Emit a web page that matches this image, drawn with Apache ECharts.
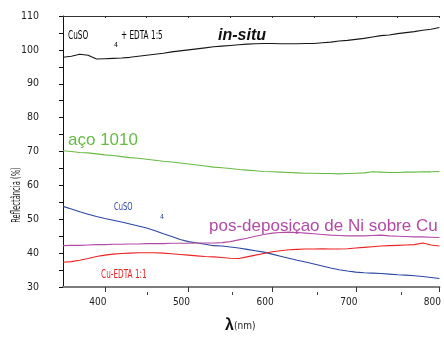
<!DOCTYPE html>
<html><head><meta charset="utf-8">
<script src="https://cdn.jsdelivr.net/npm/echarts@6/dist/echarts.min.js"></script>
<style>html,body{margin:0;padding:0;background:#fff}#c{width:444px;height:339px}</style>
</head><body><div id="c"></div>
<script>
// wavelengths (nm)
const wavelengths = [350,360,370,380,390,400,410,420,430,440,450,460,470,480,490,500,510,520,530,540,550,560,570,580,590,600,610,620,630,640,650,660,670,680,690,700,710,720,730,740,750,760,770,780,790,800];
// reflectance (%) per sample
const inSitu   = [97.8,98.1,98.7,98.4,97.3,97.4,97.5,97.6,97.8,98.1,98.4,98.7,99.0,99.4,99.7,100.0,100.3,100.6,100.9,101.1,101.3,101.5,101.7,101.8,101.9,101.9,101.8,101.8,101.8,101.9,101.9,102.1,102.3,102.6,102.8,103.1,103.4,103.8,104.2,104.4,104.8,105.1,105.4,105.8,106.1,106.6];
const aco1010  = [70.2,70.0,69.7,69.6,69.3,69.0,68.8,68.5,68.2,68.0,67.7,67.4,67.1,66.9,66.6,66.3,66.0,65.7,65.4,65.2,65.0,64.7,64.5,64.3,64.1,64.0,63.9,63.8,63.7,63.6,63.6,63.5,63.5,63.4,63.5,63.6,63.7,64.0,63.9,63.8,63.8,63.9,63.9,64.0,64.0,64.1];
const cuso4    = [53.8,53.0,52.2,51.5,50.8,50.2,49.7,49.2,48.6,48.0,47.4,46.6,45.7,44.9,44.0,43.4,43.0,42.6,42.2,42.1,41.8,41.5,41.1,40.7,40.3,39.7,39.1,38.5,37.9,37.4,36.8,36.2,35.6,35.1,34.7,34.4,34.2,34.1,34.0,33.8,33.6,33.5,33.3,33.1,32.8,32.5];
const posNi    = [42.2,42.3,42.3,42.4,42.5,42.5,42.6,42.6,42.7,42.7,42.8,42.8,42.8,42.9,42.9,42.9,43.0,43.0,43.0,43.1,43.4,43.9,44.4,45.0,45.5,45.9,46.1,46.2,46.1,45.9,45.7,45.5,45.3,45.2,45.1,45.1,45.1,45.2,45.3,45.1,45.0,44.9,44.8,44.8,44.7,44.6];
const cuEdta   = [37.3,37.5,37.9,38.4,39.0,39.4,39.7,39.9,40.0,40.1,40.1,40.1,40.0,39.8,39.6,39.4,39.2,39.0,38.9,38.7,38.5,38.4,38.9,39.4,39.9,40.4,40.7,41.0,41.1,41.2,41.2,41.3,41.2,41.2,41.3,41.5,41.7,41.9,42.1,42.2,42.3,42.4,42.5,43.0,42.4,42.1];
const xMajorTicks = [400,500,600,700,800];
const xMinorTicks = [450,550,650,750];

const narrow = "'Liberation Sans Narrow','DejaVu Sans Condensed',sans-serif";
const pair = a => wavelengths.map((w,i)=>[w,a[i]]);
const line = (name,data,color) => ({name,type:'line',data:pair(data),showSymbol:false,symbol:'none',
  lineStyle:{color,width:1.1},itemStyle:{color},xAxisIndex:0,yAxisIndex:0,animation:false});

const chart = echarts.init(document.getElementById('c'));
const txt = (x,y,text,o) => ({type:'text',x,y,scaleX:o.sx||1,silent:true,
  style:{text,x:0,y:0,fill:o.c||'#000',fontSize:o.fs||12,fontFamily:o.ff||'Liberation Sans',
  fontWeight:o.fw||'normal',fontStyle:o.st||'normal',textAlign:'left',textVerticalAlign:'middle'}});
chart.setOption({
  animation:false,
  backgroundColor:'#fff',
  grid:[{left:63,top:16,width:384.6,height:276},{left:63,top:16,width:384.6,height:276}],
  xAxis:[
    {type:'value',position:'bottom',min:350,max:800,interval:50,
     axisLine:{lineStyle:{color:'#7d7d7d',width:2}},
     axisTick:{show:true,customValues:xMajorTicks,length:5,lineStyle:{color:'#333',width:1}},
     axisLabel:{customValues:xMajorTicks,margin:10,padding:[0,14,0,0],fontSize:10,color:'#222',fontFamily:narrow},
     splitLine:{show:false},
     name:'{a|λ}{b|(nm)}',nameLocation:'middle',nameGap:31,
     nameTextStyle:{padding:[0,22,0,0],rich:{a:{fontSize:16,fontWeight:'bold',fontFamily:'Liberation Sans',color:'#111'},b:{fontSize:10,fontFamily:narrow,color:'#222'}}}},
    {type:'value',position:'top',min:350,max:800,interval:50,
     axisLine:{lineStyle:{color:'#333',width:1}},
     axisTick:{show:true,inside:true,length:2,lineStyle:{color:'#333'}},
     axisLabel:{show:false},splitLine:{show:false}},
    {type:'value',gridIndex:1,position:'bottom',min:350,max:800,interval:50,
     axisLine:{show:false},
     axisTick:{show:true,customValues:xMinorTicks,length:3,lineStyle:{color:'#444'}},
     axisLabel:{show:false},splitLine:{show:false}}
  ],
  yAxis:[
    {type:'value',min:30,max:110,interval:5,
     axisLine:{show:true,lineStyle:{color:'#111',width:1}},
     axisTick:{show:true,length:4,lineStyle:{color:'#111',width:1}},
     axisLabel:{margin:24,fontSize:10.5,color:'#222',fontFamily:narrow,
       formatter:v=>(v%10===0?String(v):'')},
     splitLine:{show:false}},
    {type:'value',gridIndex:1,min:30,max:110,show:false}
  ],
  series:[
    line('in-situ',inSitu,'#161616'),
    line('aço 1010',aco1010,'#66bb44'),
    line('CuSO4',cuso4,'#2a47a3'),
    line('pos-deposiçao de Ni sobre Cu',posNi,'#b44aa8'),
    line('Cu-EDTA 1:1',cuEdta,'#ee2222')
  ],
  graphic:[
    txt(68,36,'CuSO',{fs:12,sx:0.68,ff:narrow}),
    txt(114,45,'4',{fs:7,ff:narrow}),
    txt(121,36,'+ EDTA 1:5',{fs:12,sx:0.68,ff:narrow}),
    txt(218,36,'in-situ',{fs:16,fw:'bold',st:'italic',c:'#111'}),
    txt(68,140,'aço 1010',{fs:17,c:'#66bb44'}),
    txt(114,207,'CuSO',{fs:11,sx:0.68,c:'#2a47a3',ff:narrow}),
    txt(160,217,'4',{fs:7,c:'#2a47a3',ff:narrow}),
    txt(209,226,'pos-deposiçao de Ni sobre Cu',{fs:17,c:'#b44aa8'}),
    txt(101,275,'Cu-EDTA 1:1',{fs:12,sx:0.68,c:'#ee2222',ff:narrow}),
    {type:'text',x:17,y:195,rotation:Math.PI/2,scaleX:0.58,silent:true,
     style:{text:'Reflectância (%)',x:0,y:0,fill:'#222',fontSize:13,fontFamily:narrow,textAlign:'center',textVerticalAlign:'middle'}}
  ]
});
</script></body></html>
